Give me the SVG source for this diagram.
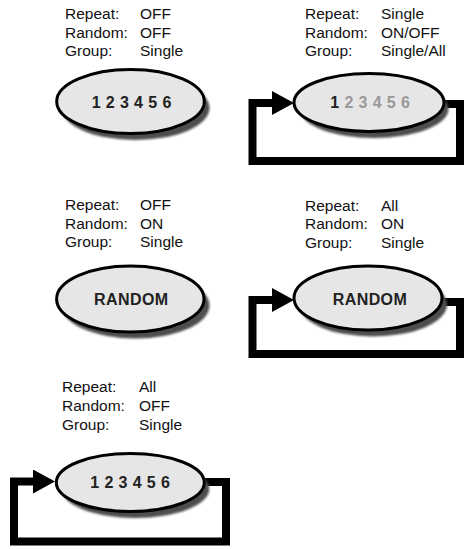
<svg xmlns="http://www.w3.org/2000/svg" width="468" height="549" viewBox="0 0 468 549">
<style>
.lbl{font-family:"Liberation Sans",Arial,Helvetica,sans-serif;font-size:15.5px;fill:#111}
.big{font-family:"Liberation Sans",Arial,Helvetica,sans-serif;font-size:16px;font-weight:bold;fill:#222;text-anchor:middle;letter-spacing:0.4px}
.oval{fill:#e6e6e6;stroke:#000;stroke-width:3}
.shadow{fill:#4d4d4d;filter:url(#blur)}
.loop{fill:none;stroke:#000;stroke-width:8;stroke-linejoin:miter;marker-end:url(#arrow)}
.dim{fill:#999}
</style>
<defs>
<filter id="blur" x="-10%" y="-10%" width="120%" height="130%"><feGaussianBlur stdDeviation="1.2"/></filter>
<marker id="arrow" viewBox="0 0 22 24" refX="2" refY="12" markerWidth="22" markerHeight="24" markerUnits="userSpaceOnUse" orient="auto"><path d="M0,0 L22,12 L0,24 Z" fill="#000"/></marker>
</defs>
<rect width="468" height="549" fill="#fff"/>
<g id="connectors">
<path class="loop" d="M432 104 H460 V161 H252.5 V103 H274"/>
<path class="loop" d="M432 302 H460 V354 H252.5 V300 H274"/>
<path class="loop" d="M192 482 H226 V541.5 H14 V481.5 H35"/>
</g>
<g id="node1">
<text class="lbl" x="65" y="19">Repeat:</text><text class="lbl" x="140" y="19">OFF</text>
<text class="lbl" x="65" y="37.5">Random:</text><text class="lbl" x="140" y="37.5">OFF</text>
<text class="lbl" x="65" y="56">Group:</text><text class="lbl" x="140" y="56">Single</text>
<ellipse class="shadow" cx="135.5" cy="108" rx="74" ry="32"/>
<ellipse class="oval" cx="130.5" cy="101.5" rx="73.8" ry="32"/>
<text class="big" x="131.7" y="107.5">1 2 3 4 5 6</text>
</g>
<g id="node2">
<text class="lbl" x="305" y="19">Repeat:</text><text class="lbl" x="381" y="19">Single</text>
<text class="lbl" x="305" y="37.5">Random:</text><text class="lbl" x="381" y="37.5">ON/OFF</text>
<text class="lbl" x="305" y="56">Group:</text><text class="lbl" x="381" y="56">Single/All</text>
<ellipse class="shadow" cx="374" cy="109" rx="74.5" ry="29"/>
<ellipse class="oval" cx="369" cy="102.5" rx="75" ry="29"/>
<text class="big" x="370.3" y="108"><tspan>1</tspan><tspan class="dim"> 2 3 4 5 6</tspan></text>
</g>
<g id="node3">
<text class="lbl" x="65" y="210">Repeat:</text><text class="lbl" x="140" y="210">OFF</text>
<text class="lbl" x="65" y="228.7">Random:</text><text class="lbl" x="140" y="228.7">ON</text>
<text class="lbl" x="65" y="247.3">Group:</text><text class="lbl" x="140" y="247.3">Single</text>
<ellipse class="shadow" cx="135.5" cy="305.5" rx="74" ry="33"/>
<ellipse class="oval" cx="130.3" cy="299" rx="73.7" ry="33"/>
<text class="big" x="131.3" y="304.5">RANDOM</text>
</g>
<g id="node4">
<text class="lbl" x="305" y="210.5">Repeat:</text><text class="lbl" x="381" y="210.5">All</text>
<text class="lbl" x="305" y="229">Random:</text><text class="lbl" x="381" y="229">ON</text>
<text class="lbl" x="305" y="247.5">Group:</text><text class="lbl" x="381" y="247.5">Single</text>
<ellipse class="shadow" cx="373" cy="304.5" rx="74" ry="32"/>
<ellipse class="oval" cx="368" cy="298" rx="74" ry="32"/>
<text class="big" x="370" y="304.5">RANDOM</text>
</g>
<g id="node5">
<text class="lbl" x="62" y="392.3">Repeat:</text><text class="lbl" x="139" y="392.3">All</text>
<text class="lbl" x="62" y="411">Random:</text><text class="lbl" x="139" y="411">OFF</text>
<text class="lbl" x="62" y="429.7">Group:</text><text class="lbl" x="139" y="429.7">Single</text>
<ellipse class="shadow" cx="135.3" cy="489" rx="74" ry="29"/>
<ellipse class="oval" cx="130.3" cy="482.5" rx="74" ry="29"/>
<text class="big" x="130.3" y="487.5">1 2 3 4 5 6</text>
</g>
</svg>
